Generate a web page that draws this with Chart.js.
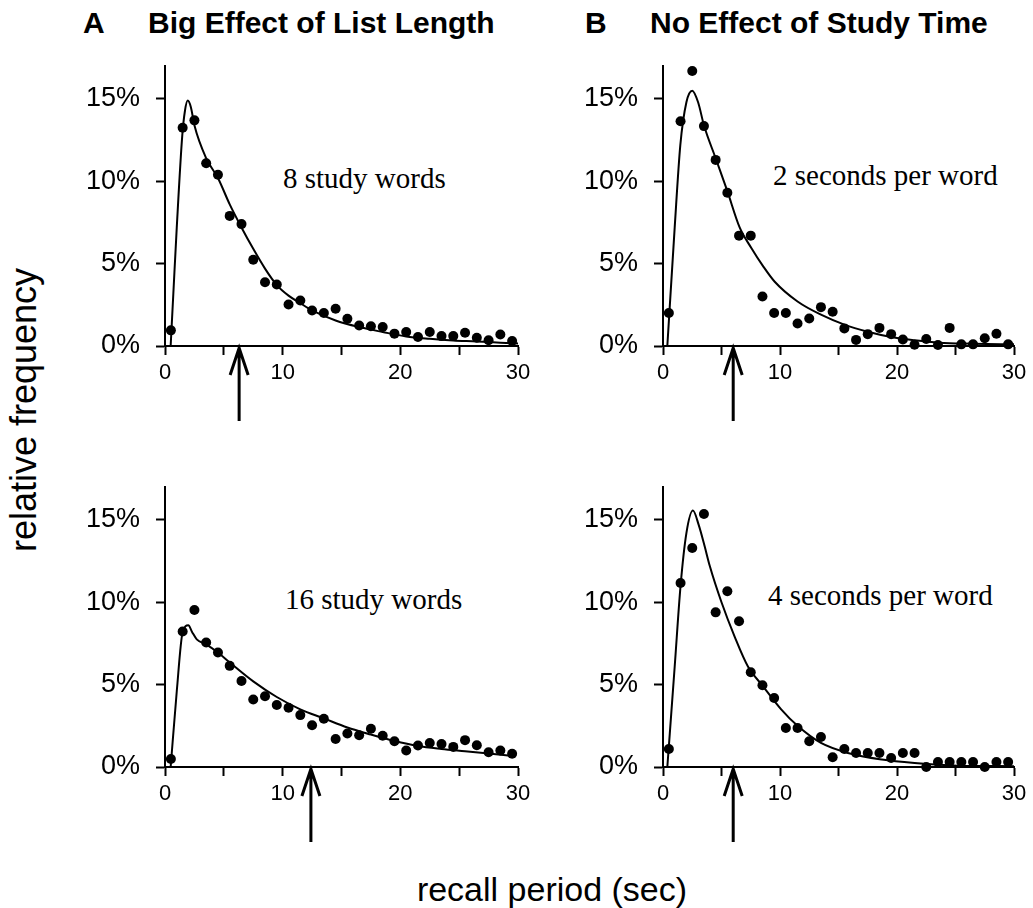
<!DOCTYPE html>
<html>
<head>
<meta charset="utf-8">
<script src="https://cdn.jsdelivr.net/npm/chart.js@4.4.1/dist/chart.umd.min.js"></script>
<style>
  html, body { margin: 0; padding: 0; background: #fff; }
  #page { position: relative; width: 1033px; height: 908px; overflow: hidden; }
  .title { position: absolute; font-family: "Liberation Sans", Arial, sans-serif; font-weight: bold; font-size: 30px; line-height: 30px; color: #000; white-space: nowrap; }
  .note { position: absolute; font-family: "Liberation Serif", "Times New Roman", serif; font-size: 29px; line-height: 29px; color: #000; white-space: nowrap; }
  .axis { position: absolute; font-family: "Liberation Sans", Arial, sans-serif; font-size: 34px; line-height: 34px; color: #000; white-space: nowrap; }
</style>
</head>
<body>
<div id="page">
  <div class="title" style="left:83px;top:8px">A</div>
  <div class="title" style="left:148px;top:8px">Big Effect of List Length</div>
  <div class="title" style="left:585px;top:8px">B</div>
  <div class="title" style="left:650px;top:8px">No Effect of Study Time</div>

  <div class="note" style="left:283px;top:164px">8 study words</div>
  <div class="note" style="left:773px;top:161px">2 seconds per word</div>
  <div class="note" style="left:285px;top:585px">16 study words</div>
  <div class="note" style="left:768px;top:581px">4 seconds per word</div>

  <div class="axis" style="left:24px;top:410px;font-size:36px;transform:translate(-50%,-50%) rotate(-90deg)">relative frequency</div>
  <div class="axis" style="left:552px;top:872px;transform:translateX(-50%)">recall period (sec)</div>
</div>
<script>
// recall period bins (sec)
const binCenters = [0.5, 1.5, 2.5, 3.5, 4.5, 5.5, 6.5, 7.5, 8.5, 9.5, 10.5, 11.5, 12.5, 13.5, 14.5,
                    15.5, 16.5, 17.5, 18.5, 19.5, 20.5, 21.5, 22.5, 23.5, 24.5, 25.5, 26.5, 27.5, 28.5, 29.5];

// observed relative frequency (%)
const words8 = [0.95, 13.25, 13.7, 11.1, 10.4, 7.9, 7.4, 5.24, 3.87, 3.73, 2.52, 2.76, 2.16, 2.0, 2.26,
                1.65, 1.25, 1.2, 1.15, 0.75, 0.85, 0.55, 0.85, 0.6, 0.6, 0.8, 0.5, 0.35, 0.7, 0.3];
const words16 = [0.49, 8.23, 9.53, 7.56, 6.95, 6.14, 5.22, 4.1, 4.3, 3.76, 3.6, 3.15, 2.54, 2.93, 1.7,
                 2.03, 1.93, 2.32, 1.9, 1.56, 1.0, 1.3, 1.46, 1.4, 1.22, 1.63, 1.32, 0.9, 1.0, 0.8];
const sec2 = [2.0, 13.65, 16.7, 13.35, 11.3, 9.3, 6.7, 6.7, 3.0, 2.0, 2.0, 1.37, 1.67, 2.36, 2.08,
              1.07, 0.37, 0.72, 1.1, 0.72, 0.4, 0.08, 0.43, 0.06, 1.1, 0.1, 0.1, 0.47, 0.74, 0.1];
const sec4 = [1.09, 11.17, 13.3, 15.36, 9.39, 10.67, 8.85, 5.75, 4.96, 4.19, 2.37, 2.37, 1.56, 1.82, 0.59,
              1.09, 0.85, 0.85, 0.85, 0.55, 0.85, 0.85, 0, 0.3, 0.3, 0.3, 0.3, 0, 0.3, 0.3];

// model fit curves
const fit8X = [0.48, 0.71, 1.0, 1.47, 1.7, 1.93, 2.2, 2.5, 3.5, 4.5, 5.5, 6.5, 7.5, 8.5, 9.5, 10.5, 11.5, 12.5,
               14.5, 16.5, 18.5, 20.5, 22.5, 24.5, 26.5, 28.5, 30];
const fit8Y = [0, 3.2, 7.2, 12.8, 14.3, 14.9, 14.5, 13.4, 11.4, 10.2, 8.6, 7.2, 5.9, 4.7, 3.7, 3.06, 2.6, 2.16,
               1.55, 1.15, 0.85, 0.58, 0.44, 0.34, 0.28, 0.2, 0.15];
const fit16X = [0.48, 1.0, 1.5, 1.98, 2.3, 2.7, 3.5, 4.5, 5.5, 7.5, 9.5, 11.5, 13.5, 15.5, 17.5, 19.5,
                21.5, 23.5, 25.5, 27.5, 29.7];
const fit16Y = [0, 4.6, 8.2, 8.6, 8.2, 7.75, 7.45, 6.95, 6.35, 5.2, 4.25, 3.5, 2.95, 2.4, 1.97, 1.58,
                1.28, 1.1, 0.96, 0.82, 0.65];
const fit2sX = [0.37, 1.0, 1.48, 2.0, 2.5, 3.0, 3.5, 4.5, 5.5, 6.55, 7.55, 8.55, 9.55, 11.5, 13.5, 15.5,
                17.5, 19.5, 21.5, 23.6, 26.5, 30];
const fit2sY = [0, 7.2, 12.2, 14.8, 15.5, 14.8, 13.4, 11.4, 9.4, 7.2, 5.95, 4.85, 3.9, 2.7, 1.9, 1.3,
                0.87, 0.55, 0.35, 0.2, 0.14, 0.1];
const fit4sX = [0.37, 1.0, 1.5, 2.0, 2.56, 3.05, 3.56, 4.0, 5.0, 6.13, 7.26, 8.55, 10.1, 11.5, 13.5,
                15.8, 18.7, 21.5, 25.2, 30];
const fit4sY = [0, 6.1, 11.0, 14.2, 15.57, 14.7, 13.4, 12.2, 10.0, 7.9, 6.1, 4.9, 3.5, 2.5, 1.46,
                0.85, 0.45, 0.24, 0.08, 0.05];

// arrow marks on the time axis (sec)
const arrowAt = [6.3, 6.0, 12.4, 6.0];

const yTickValues = [0, 5, 10, 15];
const xTickValues = [0, 5, 10, 15, 20, 25, 30];
const xLabelValues = [0, 10, 20, 30];

// layout of each plot area in page pixels
const panels = [
    {left: 165, top: 66, right: 518, bottom: 346, obs: words8, fx: fit8X, fy: fit8Y, arrow: arrowAt[0]},
    {left: 663, top: 66, right: 1014, bottom: 346, obs: sec2, fx: fit2sX, fy: fit2sY, arrow: arrowAt[1]},
    {left: 165, top: 487, right: 518, bottom: 767, obs: words16, fx: fit16X, fy: fit16Y, arrow: arrowAt[2]},
    {left: 663, top: 487, right: 1014, bottom: 767, obs: sec4, fx: fit4sX, fy: fit4sY, arrow: arrowAt[3]}
];

const Y_AXIS_W = 110;
const X_AXIS_H = 90;
const PAD_TOP = 10;
const PAD_RIGHT = 25;
const tickFont = '"Liberation Sans", Arial, sans-serif';

const arrowPlugin = {
    id: 'meanArrow',
    afterDraw(chart, args, opts) {
        const ctx = chart.ctx;
        const px = chart.scales.x.getPixelForValue(opts.at);
        const tip = chart.chartArea.bottom + 1;
        ctx.save();
        ctx.strokeStyle = '#000';
        ctx.lineWidth = 3;
        ctx.lineCap = 'butt';
        ctx.beginPath();
        ctx.moveTo(px, tip + 2);
        ctx.lineTo(px, tip + 74);
        ctx.moveTo(px - 9, tip + 28);
        ctx.lineTo(px, tip + 1);
        ctx.lineTo(px + 9, tip + 28);
        ctx.stroke();
        ctx.restore();
    }
};

function makePanel(p) {
    const page = document.getElementById('page');
    const canvas = document.createElement('canvas');
    const w = (p.right - p.left) + Y_AXIS_W + PAD_RIGHT;
    const h = (p.bottom - p.top) + PAD_TOP + X_AXIS_H;
    canvas.width = w;
    canvas.height = h;
    canvas.style.position = 'absolute';
    canvas.style.left = (p.left - Y_AXIS_W) + 'px';
    canvas.style.top = (p.top - PAD_TOP) + 'px';
    canvas.style.width = w + 'px';
    canvas.style.height = h + 'px';
    page.appendChild(canvas);

    const config = {
        type: 'scatter',
        data: {
            datasets: [{
                data: binCenters.map((x, i) => ({x: x, y: p.obs[i]})),
                pointRadius: 5,
                pointBackgroundColor: '#000',
                pointBorderWidth: 0,
                showLine: false,
                clip: false
            }, {
                data: p.fx.map((x, i) => ({x: x, y: p.fy[i]})),
                showLine: true,
                pointRadius: 0,
                borderColor: '#000',
                borderWidth: 2,
                cubicInterpolationMode: 'monotone',
                clip: false
            }]
        },
        plugins: [arrowPlugin],
        options: {
            responsive: false,
            animation: false,
            devicePixelRatio: 1,
            layout: {padding: {left: 0, top: PAD_TOP, right: PAD_RIGHT, bottom: 0}},
            plugins: {
                legend: {display: false},
                tooltip: {enabled: false},
                meanArrow: {at: p.arrow}
            },
            scales: {
                x: {
                    type: 'linear',
                    min: 0,
                    max: 30,
                    afterFit: (s) => { s.height = X_AXIS_H; s.paddingLeft = 0; s.paddingRight = 0; },
                    afterBuildTicks: (s) => { s.ticks = xTickValues.map(v => ({value: v})); },
                    border: {display: true, color: '#000', width: 2},
                    grid: {display: true, drawOnChartArea: false, drawTicks: true, tickLength: 9,
                           tickWidth: 2, tickColor: '#000', color: '#000'},
                    ticks: {
                        color: '#000',
                        padding: 5,
                        maxRotation: 0,
                        autoSkip: false,
                        font: {family: tickFont, size: 22},
                        callback: (v) => xLabelValues.includes(v) ? String(v) : ''
                    }
                },
                y: {
                    type: 'linear',
                    min: 0,
                    max: 17,
                    afterFit: (s) => { s.width = Y_AXIS_W; s.paddingTop = 0; s.paddingBottom = 0; },
                    afterBuildTicks: (s) => { s.ticks = yTickValues.map(v => ({value: v})); },
                    border: {display: true, color: '#000', width: 2},
                    grid: {display: true, drawOnChartArea: false, drawTicks: true, tickLength: 9,
                           tickWidth: 2, tickColor: '#000', color: '#000'},
                    ticks: {
                        color: '#000',
                        padding: 16,
                        autoSkip: false,
                        font: {family: tickFont, size: 27},
                        callback: (v) => v + '%'
                    }
                }
            }
        }
    };
    new Chart(canvas.getContext('2d'), config);
}

panels.forEach(makePanel);
</script>
</body>
</html>
